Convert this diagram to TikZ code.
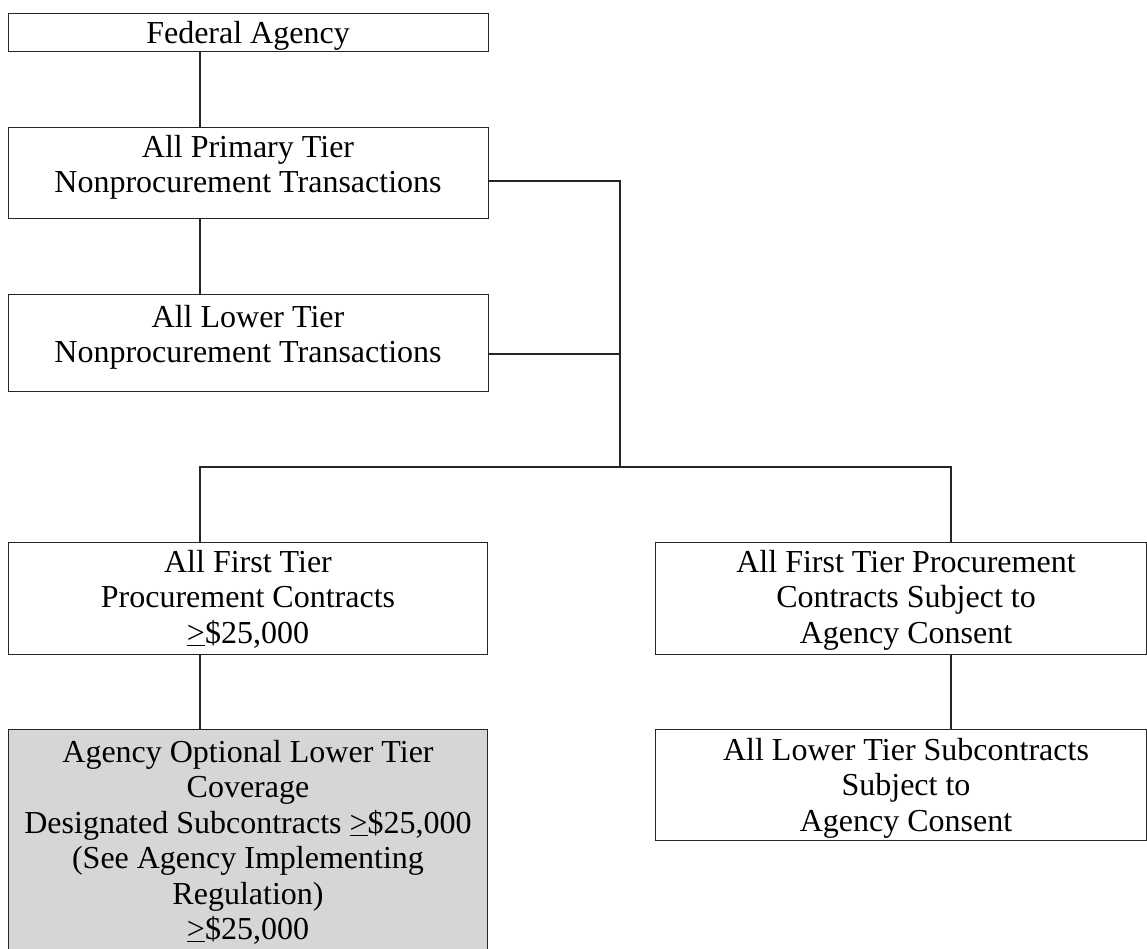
\documentclass[tikz,border=0pt]{standalone}
\usepackage{fontspec}
\setmainfont{Liberation Serif}
\newcommand{\myge}{\underline{>}}
\begin{document}
\begin{tikzpicture}[x=1pt,y=-1pt,
  box/.style={draw=black!85, line width=1.3pt, rectangle, inner sep=0pt, anchor=north west},
  graybox/.style={box, fill=black!16},
  txt/.style={inner sep=0pt, anchor=north, align=center, font=\fontsize{32}{35.5}\selectfont},
  conn/.style={draw=black!85, line width=1.3pt}]
\clip (0,0) rectangle (1147,948);
% boxes
\node[box, minimum width=480, minimum height=38] (fed) at (8,13) {};
\node[box, minimum width=480, minimum height=91] (prim) at (8,127) {};
\node[box, minimum width=480, minimum height=97] (low) at (8,294) {};
\node[box, minimum width=479, minimum height=112] (ftier) at (8,542) {};
\node[box, minimum width=491, minimum height=112] (fcons) at (655,542) {};
\node[graybox, minimum width=479, minimum height=240] (opt) at (8,729) {};
\node[box, minimum width=491, minimum height=111] (lcons) at (655,729) {};
% texts
\node[txt] (tfed) at (248,21) {Federal Agency};
\node[txt] (tprim) at (248,135) {All Primary Tier\\Nonprocurement Transactions};
\node[txt] (tlow) at (248,305) {All Lower Tier\\Nonprocurement Transactions};
\node[txt] (tftier) at (248,550) {All First Tier\\Procurement Contracts\\\myge\$25,000};
\node[txt] (tfcons) at (906,550) {All First Tier Procurement\\Contracts Subject to\\Agency Consent};
\node[txt] (topt) at (248,740) {Agency Optional Lower Tier\\Coverage\\Designated Subcontracts \myge\$25,000\\(See Agency Implementing\\Regulation)\\\myge\$25,000};
\node[txt] (tlcons) at (906,738) {All Lower Tier Subcontracts\\Subject to\\Agency Consent};
% connector coordinates
\coordinate (cx) at (200,0);
\coordinate (rx) at (620,0);
\coordinate (rrx) at (951,0);
\coordinate (bus) at (0,467);
\coordinate (j1) at (620,181);
\coordinate (j2) at (620,354);
% connectors
\draw[conn] (fed.south -| cx) -- (prim.north -| cx);
\draw[conn] (prim.south -| cx) -- (low.north -| cx);
\draw[conn] (prim.east |- j1) -- (j1) -- (rx |- bus);
\draw[conn] (low.east |- j2) -- (j2);
\draw[conn] (ftier.north -| cx) -- (cx |- bus) -- (rrx |- bus) -- (fcons.north -| rrx);
\draw[conn] (ftier.south -| cx) -- (opt.north -| cx);
\draw[conn] (fcons.south -| rrx) -- (lcons.north -| rrx);
\end{tikzpicture}
\end{document}
